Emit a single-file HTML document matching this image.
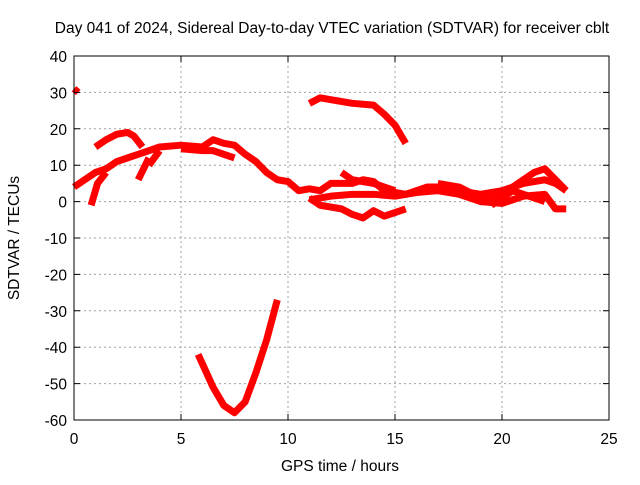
<!DOCTYPE html>
<html><head><meta charset="utf-8"><style>
body{margin:0;background:#fff}
svg text{font-family:"Liberation Sans",sans-serif;font-size:15.5px;fill:#000}
</style></head><body>
<svg id="chart" width="640" height="480" xmlns="http://www.w3.org/2000/svg">
<rect width="640" height="480" fill="#fff"/>
<text x="332" y="33" text-anchor="middle">Day 041 of 2024, Sidereal Day-to-day VTEC variation (SDTVAR) for receiver cblt</text>
<g id="grid"></g>
<g id="series"></g>
<rect x="74" y="56" width="535" height="364" fill="none" stroke="#000" stroke-width="1"/>
<g id="ticks"></g>
<text x="340" y="471" text-anchor="middle">GPS time / hours</text>
<text transform="translate(19,238) rotate(-90)" text-anchor="middle">SDTVAR / TECUs</text>
</svg>
<script>
const xTicks=[0,5,10,15,20,25];
const yTicks=[40,30,20,10,0,-10,-20,-30,-40,-50,-60];
const seg1=[[0,31],[0.2,30]];
const seg2=[[0,4],[0.5,6],[1,8],[1.5,9],[2,11],[2.5,12],[3,13],[3.5,14],[4,15],[5,15.5],[6,15],[6.5,17],[7,16],[7.5,15.5],[8,13],[8.5,11],[9,8],[9.5,6],[10,5.5],[10.5,3],[11,3.5],[11.5,3],[12,5],[13,5],[13.5,6],[14,5.5],[14.5,3],[15,2.5],[15.5,2],[16,3],[16.5,4],[17,4],[18,3],[19,2],[20,3],[21,5],[22,6],[22.5,5],[23,3]];
const seg3=[[1,15],[1.5,17],[2,18.5],[2.5,19],[2.8,18],[3.2,15]];
const seg4=[[0.8,-1],[1.1,5],[1.5,8]];
const seg5=[[3,6],[3.5,12]];
const seg6=[[3.5,10],[4,14]];
const seg7=[[5,14.5],[6,14],[6.5,14],[7,13],[7.5,12]];
const seg8=[[11,27],[11.5,28.5],[12,28],[13,27],[14,26.5],[14.5,24],[15,21],[15.5,16]];
const seg9=[[5.8,-42],[6.5,-51],[7,-56],[7.5,-58],[8,-55],[8.5,-47],[9,-38],[9.5,-27]];
const seg10=[[11,1],[11.5,-1],[12,-1.5],[12.5,-2],[13,-3.5],[13.5,-4.5],[14,-2.5],[14.5,-4],[15,-3],[15.5,-2]];
const seg11=[[11,0.5],[12,1.5],[13,2],[14,2],[15,1.5],[16,2.5],[17,3],[18,2],[19,0],[20,-0.5],[21,1.5],[22,2],[22.5,-2],[23,-2]];
const seg12=[[12.5,8],[13,6],[14,5],[15,3]];
const seg13=[[17,5],[18,4],[19,1],[20,2],[21,6],[21.5,8],[22,9],[22.5,6],[23,3]];
const seg14=[[19.5,-1],[20.5,3],[21.5,1],[22,0]];
const allSeries=[seg1,seg2,seg3,seg4,seg5,seg6,seg7,seg8,seg9,seg10,seg11,seg12,seg13,seg14];
const NS="http://www.w3.org/2000/svg";
const X0=74,X1=609,Y0=420,Y1=56;
function sx(h){return X0+(h-0)/(25-0)*(X1-X0);}
function sy(v){return Y0-(v+60)/(100)*(Y0-Y1);}
const grid=document.getElementById('grid'),ticks=document.getElementById('ticks'),ser=document.getElementById('series');
function mk(t,a){const e=document.createElementNS(NS,t);for(const k in a)e.setAttribute(k,a[k]);return e;}
xTicks.forEach(t=>{
 const x=sx(t);
 if(t>0&&t<25){const g=mk('line',{x1:x,y1:Y1,x2:x,y2:Y0,stroke:'#a0a0a0','stroke-dasharray':'2,3'});
 
 
 grid.appendChild(g);}
 const tk=mk('path',{d:`M${x},${Y0}v-6M${x},${Y1}v6`,stroke:'#000'});
 
 
 ticks.appendChild(tk);
 const l=mk('text',{x:x,y:Y0+24,'text-anchor':'middle'});l.textContent=t;
 
 
 ticks.appendChild(l);
});
yTicks.forEach(t=>{
 const y=sy(t);
 if(t<40&&t>-60){const g=mk('line',{x1:X0,y1:y,x2:X1,y2:y,stroke:'#a0a0a0','stroke-dasharray':'2,3'});
 
 
 grid.appendChild(g);}
 const tk=mk('path',{d:`M${X0},${y}h6M${X1},${y}h-6`,stroke:'#000'});
 
 
 ticks.appendChild(tk);
 const l=mk('text',{x:X0-7,y:y+6,'text-anchor':'end'});l.textContent=t;
 
 
 ticks.appendChild(l);
});
allSeries.forEach(s=>{
 const p=mk('polyline',{points:s.map(d=>sx(d[0])+','+sy(d[1])).join(' '),fill:'none',stroke:'#ff0000','stroke-width':7,'stroke-linejoin':'round','stroke-linecap':'butt'});
 
 
 ser.appendChild(p);
});
</script>
</body></html>
